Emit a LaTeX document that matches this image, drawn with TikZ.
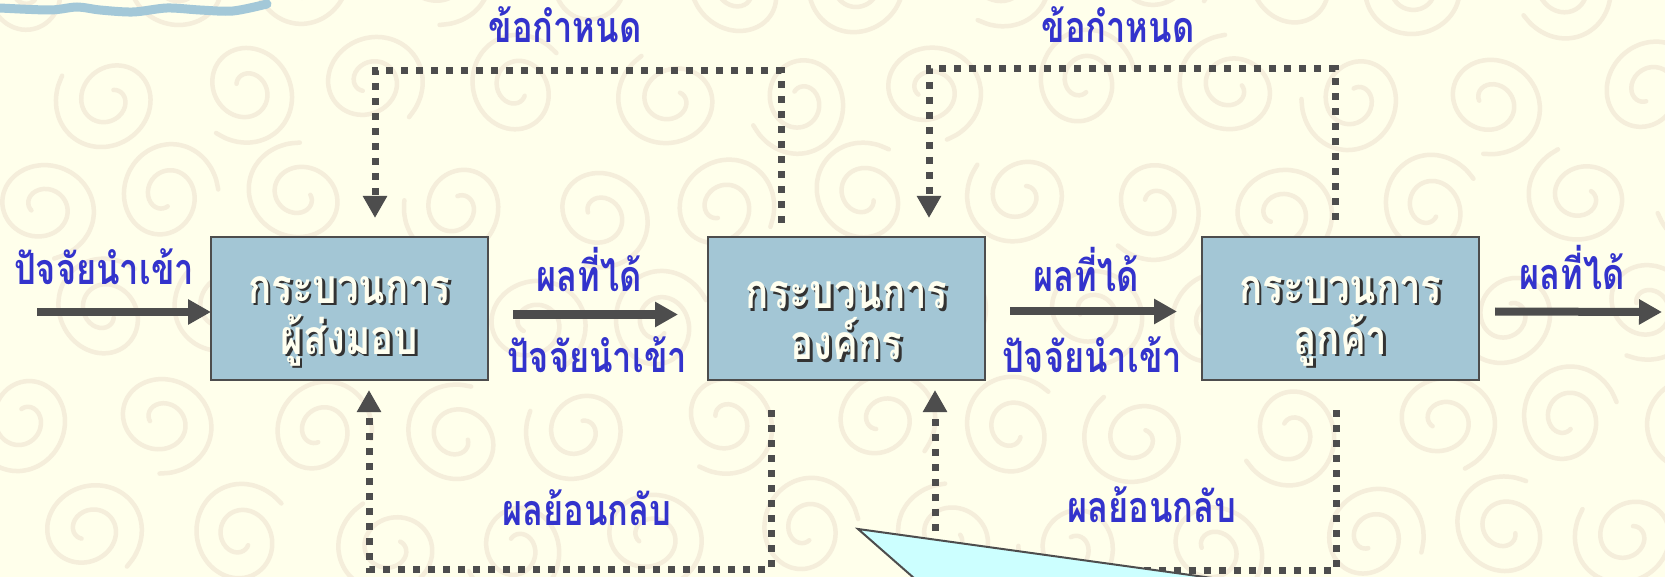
\documentclass[tikz,border=0pt]{standalone}
\usepackage{fontspec}
\newfontfamily\thai[Script=Thai, FakeStretch=0.8]{Loma}
\usetikzlibrary{arrows.meta,calc}
\definecolor{bg}{HTML}{FFFFEB}
\definecolor{spiralc}{HTML}{F5EEDB}
\definecolor{boxfill}{HTML}{A3C6D5}
\definecolor{linec}{HTML}{4D4D4D}
\definecolor{lbl}{HTML}{3333CC}
\definecolor{wavec}{HTML}{A3C8D8}
\definecolor{calloutc}{HTML}{CCFFFF}
\definecolor{boxtext}{HTML}{FFFFF0}
\definecolor{shadowc}{HTML}{333333}
\begin{document}
\begin{tikzpicture}[x=1pt,y=-1pt,
  proc/.style={draw=linec, line width=2pt, fill=boxfill, minimum width=277pt, minimum height=143pt, anchor=north west, inner sep=0pt, outer sep=0pt},
  proctext/.style={font=\thai\bfseries\fontsize{48}{51}\selectfont, text=boxtext, align=center},
  procshadow/.style={font=\thai\bfseries\fontsize{48}{51}\selectfont, text=shadowc, align=center},
  lab/.style={font=\thai\bfseries\fontsize{43}{46}\selectfont, text=lbl},
  flow/.style={draw=linec, line width=8pt, -{Triangle[length=23pt,width=24pt]}},
  fb/.style={draw=linec, line width=7pt, dash pattern=on 7pt off 8pt, -{Triangle[length=22pt,width=23pt]}},
  spiral/.style={draw=spiralc, line width=4.5pt, line cap=round}
]
\useasboundingbox (0,0) rectangle (1665,577);
\clip (0,0) rectangle (1665,577);
\fill[bg] (0,0) rectangle (1665,577);
% background spirals
\foreach \row in {0,...,5}{
  \foreach \col in {0,...,12}{
    \pgfmathsetmacro\cx{\col*140 + mod(\row,2)*70 + 30 + 12*sin(\col*97+\row*53)}
    \pgfmathsetmacro\cy{\row*112 - 20 + 10*cos(\col*71+\row*37)}
    \pgfmathsetmacro\rot{mod(\col*83+\row*131,360)}
    \draw[spiral, shift={(\cx,\cy)}, rotate=\rot] plot[domain=60:700, samples=55, smooth] ({(6+\x/15)*cos(\x)}, {1.1*(6+\x/15)*sin(\x)});
  }
}
% wavy line top-left
\draw[wavec, line width=9pt, line cap=round] plot[smooth] coordinates {(0,8) (50,10) (77,7) (100,10) (133,12) (167,8) (200,10) (233,11) (267,4)};

% process boxes
\node[proc] (b1) at (211,237) {};
\node[proc] (b2) at (708,237) {};
\node[proc] (b3) at (1202,237) {};
\foreach \b/\t in {b1/{กระบวนการ\\ผู้ส่งมอบ}, b2/{กระบวนการ\\องค์กร}, b3/{กระบวนการ\\ลูกค้า}}{
  \node[procshadow] (\b s) at ($(\b.center)+(2.5,15)$) {\t};
  \node[proctext] (\b t) at ($(\b.center)+(0,12.5)$) {\t};
}

% input / output arrows
\coordinate (in0) at (37,312);
\coordinate (out0) at (1662,312);
\draw[flow] (in0) -- (in0 -| b1.west);
\draw[flow] ($(b1.east)+(25,6)$) -- ($(b2.west)+(-30,6)$);
\draw[flow] ($(b2.east)+(25,3)$) -- ($(b3.west)+(-25,3)$);
\draw[flow] ($(b3.east)+(16,3)$) -- (out0);

% labels
\node[lab] (l1) at (104,267) {ปัจจัยนำเข้า};
\node[lab] (l2) at (589,269) {ผลที่ได้};
\node[lab] (l3) at (597,355) {ปัจจัยนำเข้า};
\node[lab] (l4) at (1086,269) {ผลที่ได้};
\node[lab] (l5) at (1092,355) {ปัจจัยนำเข้า};
\node[lab] (l6) at (1572,267) {ผลที่ได้};
\node[lab] (l7) at (565,25) {ข้อกำหนด};
\node[lab] (l8) at (1118,25) {ข้อกำหนด};
\node[lab] (l9) at (587,508) {ผลย้อนกลับ};
\node[lab] (l10) at (1152,505) {ผลย้อนกลับ};

% feedback / requirement connectors
\coordinate (t1s) at (781,223);
\coordinate (t1a) at (781,71);
\coordinate (t1b) at (375,71);
\coordinate (t1e) at (375,218);
\draw[fb] (t1s) -- (t1a) -- (t1b) -- (t1e);
\coordinate (t2s) at (1335,220);
\coordinate (t2a) at (1335,69);
\coordinate (t2b) at (929,69);
\coordinate (t2e) at (929,218);
\draw[fb] (t2s) -- (t2a) -- (t2b) -- (t2e);
\coordinate (u1s) at (771,410);
\coordinate (u1a) at (771,569);
\coordinate (u1b) at (369,569);
\coordinate (u1e) at (369,390);
\draw[fb] (u1s) -- (u1a) -- (u1b) -- (u1e);
\coordinate (u2s) at (1336,410);
\coordinate (u2a) at (1336,570);
\coordinate (u2b) at (935,570);
\coordinate (u2e) at (935,390);
\draw[fb] (u2s) -- (u2a) -- (u2b) -- (u2e);

% callout
\coordinate (c0) at (858,529);
\draw[linec, line width=2pt, fill=calloutc] (c0) -- (1371,600) -- (939,600) -- cycle;
\end{tikzpicture}
\end{document}
